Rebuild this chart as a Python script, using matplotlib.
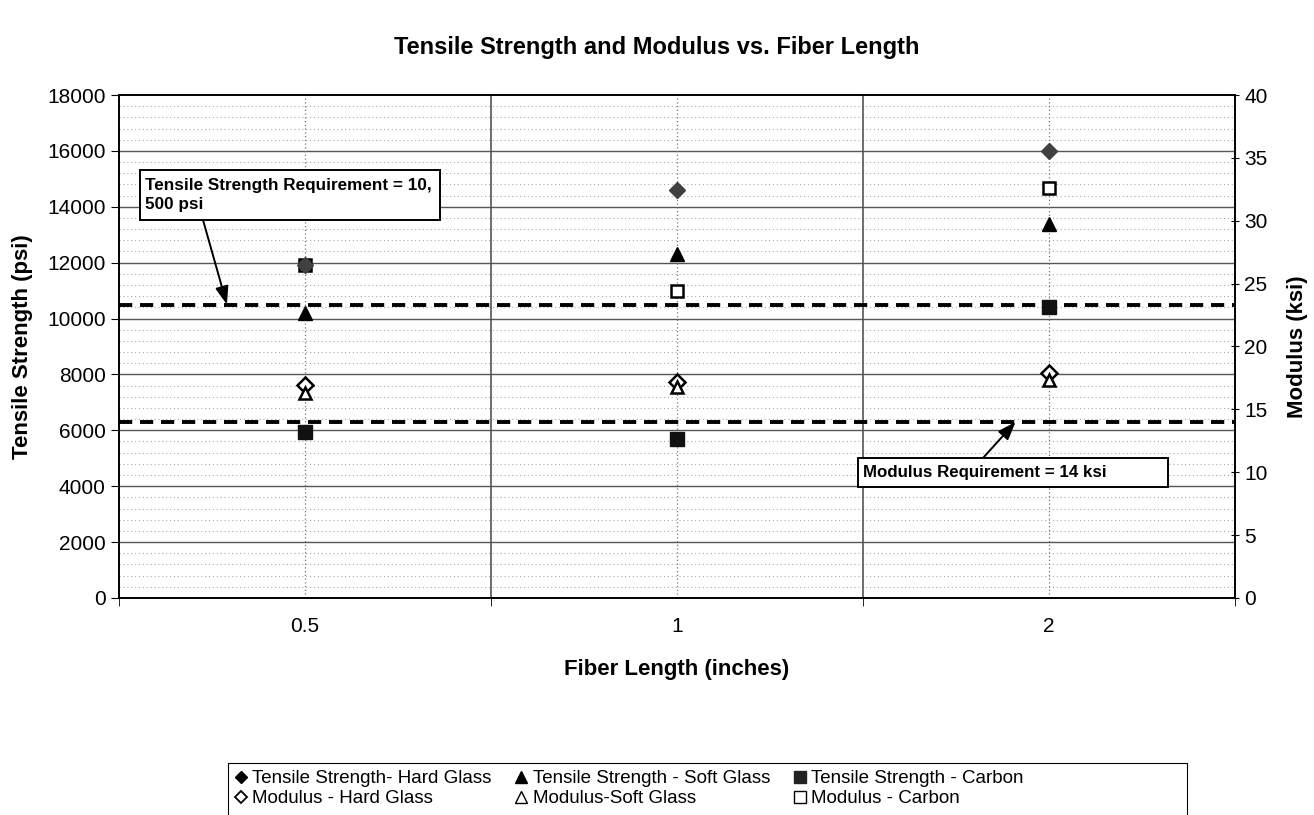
import numpy as np
import matplotlib.pyplot as plt
from matplotlib.ticker import MultipleLocator
from matplotlib.lines import Line2D
from matplotlib.patches import Rectangle

plt.rcParams['font.family'] = ['Liberation Sans', 'DejaVu Sans']

# Fiber lengths (categorical x axis)
lengths = ["0.5", "1", "2"]

# Tensile strength (psi), left axis
ts_hard_glass = [11900, 14600, 16000]
ts_soft_glass = [10200, 12300, 13400]
ts_carbon = [5950, 5700, 10400]

# Modulus (ksi), right axis
mod_hard_glass = [16.9, 17.2, 17.9]
mod_soft_glass = [16.3, 16.8, 17.3]
mod_carbon = [26.5, 24.4, 32.6]

# Requirements
ts_requirement = 10500   # psi
mod_requirement = 14     # ksi

x = np.arange(len(lengths))

fig = plt.figure(figsize=(13.14, 8.15), dpi=100)
ax = fig.add_axes([0.0906, 0.2663, 0.8493, 0.6171])
ax2 = ax.twinx()

ax.set_xlim(-0.5, len(lengths) - 0.5)
ax.set_ylim(0, 18000)
ax2.set_ylim(0, 40)

# grid
ax.yaxis.set_major_locator(MultipleLocator(2000))
ax2.yaxis.set_major_locator(MultipleLocator(5))
for v in np.arange(2000, 18000, 2000):
    ax.axhline(v, color='#555555', lw=1.0, zorder=0)
for v in np.arange(400, 18000, 400):
    if v % 2000:
        ax.axhline(v, color='#aaaaaa', lw=0.8, ls=(0, (1, 2.5)), zorder=0)
for b in [0.5, 1.5]:
    ax.axvline(b, color='#555555', lw=1.2, zorder=0)
for c in x:
    ax.axvline(c, color='#777777', lw=0.9, ls=(0, (1, 2)), zorder=0)

# requirement lines
ax.axhline(ts_requirement, color='black', lw=2.8, ls=(0, (3.4, 2.0)), zorder=2)
ax2.axhline(mod_requirement, color='black', lw=2.8, ls=(0, (3.4, 2.0)), zorder=2)

# modulus points (open markers), then strength points on top using the left scale
ms = 9
ax2.plot(x, mod_hard_glass, ls='none', marker='D', ms=ms - 1, mfc='white', mec='black', mew=1.8, zorder=4)
ax2.plot(x, mod_soft_glass, ls='none', marker='^', ms=ms, mfc='white', mec='black', mew=1.8, zorder=4)
ax2.plot(x, mod_carbon, ls='none', marker='s', ms=ms, mfc='white', mec='black', mew=1.8, zorder=4)
ax2.plot(x, ts_hard_glass, ls='none', marker='D', ms=ms - 1, color='#404040', zorder=5,
         transform=ax.transData)
ax2.plot(x, ts_soft_glass, ls='none', marker='^', ms=ms + 1, color='black', zorder=5,
         transform=ax.transData)
ax2.plot(x, ts_carbon, ls='none', marker='s', ms=ms + 1, color='#111111', zorder=5,
         transform=ax.transData)

# ticks
ax.set_xticks(x)
ax.set_xticklabels(lengths)
ax.set_xticks([-0.5, 0.5, 1.5, 2.5], minor=True)
ax.tick_params(axis='x', which='major', length=0, labelsize=15, pad=14)
ax.tick_params(axis='x', which='minor', length=6, direction='out')
ax.tick_params(axis='y', which='major', labelsize=15, length=6, direction='out')
ax.tick_params(axis='y', which='minor', length=0)
ax2.tick_params(axis='y', labelsize=15, length=6, direction='inout')
for a in (ax, ax2):
    for s in a.spines.values():
        s.set_color('black')
        s.set_linewidth(1.2)

ax.set_xlabel("Fiber Length (inches)", fontsize=16, fontweight='bold', labelpad=16)
ax.set_ylabel("Tensile Strength (psi)", fontsize=16, fontweight='bold', labelpad=10)
ax2.set_ylabel("Modulus (ksi)", fontsize=16, fontweight='bold', labelpad=14)
fig.text(0.5, 0.942, "Tensile Strength and Modulus vs. Fiber Length",
         ha='center', va='center', fontsize=17, fontweight='bold')

# annotation boxes (figure pixel coordinates converted to fractions)
W, H = 1314, 815
arrow = dict(arrowstyle='-|>,head_length=1.1,head_width=0.4',
             color='black', lw=1.4, shrinkA=0, shrinkB=0)

fig.patches.append(Rectangle((140 / W, 1 - 220 / H), 300 / W, 50 / H,
                             transform=fig.transFigure, fc='white', ec='black', lw=1.4, zorder=6))
fig.text(145 / W, 1 - 195 / H, "Tensile Strength Requirement = 10,\n500 psi",
         fontsize=12.3, fontweight='bold', ha='left', va='center', linespacing=1.3, zorder=7)
ax.annotate("", xy=(-0.21, ts_requirement), xytext=(203 / W, 1 - 220 / H),
            textcoords='figure fraction', arrowprops=arrow, zorder=7)

fig.patches.append(Rectangle((858 / W, 1 - 487 / H), 310 / W, 29 / H,
                             transform=fig.transFigure, fc='white', ec='black', lw=1.4, zorder=6))
fig.text(863 / W, 1 - 472 / H, "Modulus Requirement = 14 ksi",
         fontsize=12.2, fontweight='bold', ha='left', va='center', zorder=7)
ax2.annotate("", xy=(1.91, mod_requirement), xytext=(983 / W, 1 - 458 / H),
             textcoords='figure fraction', arrowprops=arrow, zorder=7)

# legend with its own frame
fig.patches.append(Rectangle((228 / W, -0.01), 959 / W, 0.01 + 52 / H,
                             transform=fig.transFigure, fc='white', ec='black', lw=0.8, zorder=1))
handles = [
    Line2D([], [], ls='none', marker='D', ms=6, color='black', label='Tensile Strength- Hard Glass'),
    Line2D([], [], ls='none', marker='D', ms=6, mfc='white', mec='black', mew=1.3, label='Modulus - Hard Glass'),
    Line2D([], [], ls='none', marker='^', ms=8, color='black', label='Tensile Strength - Soft Glass'),
    Line2D([], [], ls='none', marker='^', ms=8, mfc='white', mec='black', mew=1.0, label='Modulus-Soft Glass'),
    Line2D([], [], ls='none', marker='s', ms=8, color='#222222', label='Tensile Strength - Carbon'),
    Line2D([], [], ls='none', marker='s', ms=8, mfc='white', mec='black', mew=1.0, label='Modulus - Carbon'),
]
leg = fig.legend(handles=handles, ncol=3, loc='upper left', bbox_to_anchor=(222 / W, 1 - 757 / H),
                 fontsize=13.5, frameon=False,
                 handlelength=0.6, handletextpad=0.3, columnspacing=1.3,
                 labelspacing=0.15, borderpad=0.2)

fig.savefig("out.png", dpi=100)
